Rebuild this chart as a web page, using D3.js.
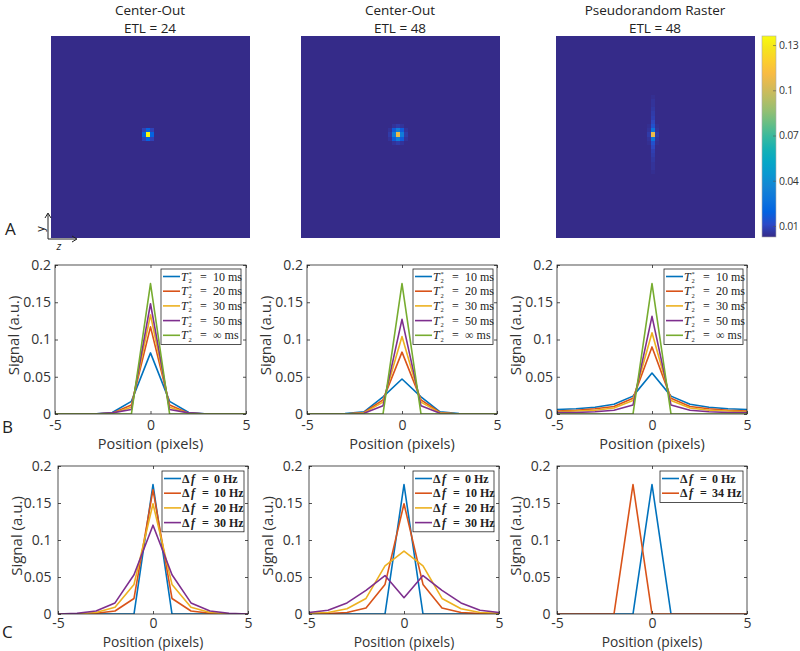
<!DOCTYPE html>
<html><head><meta charset="utf-8">
<script src="https://cdn.jsdelivr.net/npm/d3@7"></script>
<style>body{margin:0;background:#fff}svg{display:block}</style>
</head><body><svg id="fig" width="800" height="651"></svg>
<script>
// ================= DATA =================
const positions = [-5,-4,-3,-2,-1,0,1,2,3,4,5];
const yTicks = [0,0.05,0.1,0.15,0.2];
const xTicks = [-5,0,5];
const colorbarTicks = [0.01,0.04,0.07,0.1,0.13];
const colorRange = [0.0027,0.136];
const panelTitles = [["Center-Out","ETL = 24"],["Center-Out","ETL = 48"],["Pseudorandom Raster","ETL = 48"]];
const t2Values = ["10","20","30","50","∞"];
const dfValuesA = ["0","10","20","30"];
const dfValuesC3 = ["0","34"];

// Row B: T2* blurring
const b1T2_10  = [0,0,0,0.002,0.017,0.082,0.017,0.002,0,0,0];
const b1T2_20  = [0,0,0,0.001,0.012,0.117,0.012,0.001,0,0,0];
const b1T2_30  = [0,0,0,0.001,0.009,0.133,0.009,0.001,0,0,0];
const b1T2_50  = [0,0,0,0.0015,0.006,0.148,0.006,0.0015,0,0,0];
const b1T2_inf = [0,0,0,0,0,0.175,0,0,0,0,0];

const b2T2_10  = [0,0,0.0005,0.003,0.023,0.047,0.023,0.003,0.0005,0,0];
const b2T2_20  = [0,0,0,0.002,0.019,0.083,0.019,0.002,0,0,0];
const b2T2_30  = [0,0,0,0.0015,0.016,0.104,0.016,0.0015,0,0,0];
const b2T2_50  = [0,0,0,0.001,0.011,0.127,0.011,0.001,0,0,0];
const b2T2_inf = [0,0,0,0,0,0.175,0,0,0,0,0];

const b3T2_10  = [0.006,0.007,0.009,0.013,0.024,0.055,0.024,0.013,0.009,0.007,0.006];
const b3T2_20  = [0.004,0.005,0.007,0.010,0.021,0.090,0.021,0.010,0.007,0.005,0.004];
const b3T2_30  = [0.003,0.004,0.005,0.008,0.018,0.109,0.018,0.008,0.005,0.004,0.003];
const b3T2_50  = [0.002,0.002,0.003,0.005,0.012,0.131,0.012,0.005,0.003,0.002,0.002];
const b3T2_inf = [0,0,0,0,0,0.175,0,0,0,0,0];

// Row C: off-resonance
const c1Df_0  = [0,0,0,0,0,0.175,0,0,0,0,0];
const c1Df_10 = [0,0,0.001,0.004,0.021,0.168,0.021,0.004,0.001,0,0];
const c1Df_20 = [0,0,0.002,0.009,0.040,0.149,0.040,0.009,0.002,0,0];
const c1Df_30 = [0,0.001,0.004,0.015,0.053,0.120,0.053,0.015,0.004,0.001,0];

const c2Df_0  = [0,0,0,0,0,0.175,0,0,0,0,0];
const c2Df_10 = [0,0.0005,0.002,0.008,0.040,0.149,0.040,0.008,0.002,0.0005,0];
const c2Df_20 = [0.001,0.002,0.007,0.021,0.065,0.085,0.065,0.021,0.007,0.002,0.001];
const c2Df_30 = [0.002,0.005,0.015,0.032,0.052,0.022,0.052,0.032,0.015,0.005,0.002];

const c3Df_0  = [0,0,0,0,0,0.175,0,0,0,0,0];
const c3Df_34 = [0,0,0,0,0.175,0,0,0,0,0,0];

// Row A: 2D point spread functions (48 x 48 image, centred patch)
const imgSize = 48;
const imgCenter = 23;
const imgBackground = 0.003;
const psfCO24 = [
  [0.009,0.020,0.009],
  [0.020,0.135,0.020],
  [0.009,0.020,0.009]];
const psfCO48 = [
  [0.003,0.005,0.007,0.005,0.003],
  [0.005,0.017,0.032,0.017,0.005],
  [0.007,0.032,0.108,0.032,0.007],
  [0.005,0.017,0.032,0.017,0.005],
  [0.003,0.005,0.007,0.005,0.003]];
const psfPR48Center = [0.004,0.005,0.005,0.006,0.007,0.008,0.010,0.013,0.027,0.108,0.027,0.013,0.010,0.008,0.007,0.006,0.005,0.005,0.004];
const psfPR48Side   = [0.003,0.003,0.003,0.003,0.003,0.003,0.003,0.004,0.005,0.007,0.005,0.004,0.003,0.003,0.003,0.003,0.003,0.003,0.003];

// parula colormap
const parula = ["#352a87","#2c4ac7","#0363e1","#0d75dc","#1485d4","#0998d1","#06a7c6","#15b1b4","#38b99e","#65be86","#92bf73","#b7bd64","#d9ba56","#f8bb44","#fcce2e","#f5e41d","#f9fb0e"];

// ================= DRAWING =================
const svg = d3.select("#fig");
const FONT = "'Open Sans', 'Noto Sans', sans-serif";
const SERIF = "'Liberation Serif', 'DejaVu Serif', serif";
const AX = "#262626";
const lineColors = ["#0072BD","#D95319","#EDB120","#7E2F8E","#77AC30"];

const color = d3.scaleLinear()
  .domain(parula.map((_,i)=>colorRange[0]+i/(parula.length-1)*(colorRange[1]-colorRange[0])))
  .range(parula).interpolate(d3.interpolateRgb).clamp(true);

function makeGrid(cells){ // cells: [dr, dc, v]
  const g = d3.range(imgSize).map(()=>d3.range(imgSize).map(()=>imgBackground));
  cells.forEach(([dr,dc,v])=>{ g[imgCenter+dr][imgCenter+dc]=v; });
  const out=[];
  g.forEach((row,r)=>row.forEach((v,c)=>out.push({r,c,v})));
  return out;
}
function patchCells(p){
  const h=(p.length-1)/2, w=(p[0].length-1)/2, out=[];
  p.forEach((row,i)=>row.forEach((v,j)=>out.push([i-h,j-w,v])));
  return out;
}
function columnCells(center, side){
  const h=(center.length-1)/2, out=[];
  center.forEach((v,i)=>{ out.push([i-h,0,v]); out.push([i-h,-1,side[i]]); out.push([i-h,1,side[i]]); });
  return out;
}
const images = [
  {x:51, data:makeGrid(patchCells(psfCO24))},
  {x:301, data:makeGrid(patchCells(psfCO48))},
  {x:556, data:makeGrid(columnCells(psfPR48Center, psfPR48Side))}
];
const imgTop=36, imgW=198, imgH=201;

images.forEach((im,k)=>{
  const xs = d3.scaleBand().domain(d3.range(imgSize)).range([im.x, im.x+imgW]);
  const ys = d3.scaleBand().domain(d3.range(imgSize)).range([imgTop, imgTop+imgH]);
  const g = svg.append("g").attr("shape-rendering","crispEdges");
  g.selectAll("rect").data(im.data).join("rect")
    .attr("x",d=>xs(d.c)).attr("y",d=>ys(d.r))
    .attr("width",xs.bandwidth()+0.5).attr("height",ys.bandwidth()+0.5)
    .attr("fill",d=>color(d.v));
  const cx = im.x+imgW/2;
  svg.append("text").attr("x",cx).attr("y",14.5).attr("text-anchor","middle")
    .attr("font-family",FONT).attr("font-size",13.5).attr("fill","#222").text(panelTitles[k][0]);
  svg.append("text").attr("x",cx).attr("y",33).attr("text-anchor","middle")
    .attr("font-family",FONT).attr("font-size",13.5).attr("fill","#222").text(panelTitles[k][1]);
});

// colorbar
const cb = {x:762, w:14, top:36, bottom:237};
const cbScale = d3.scaleLinear().domain(colorRange).range([cb.bottom, cb.top]);
const defs = svg.append("defs");
const grad = defs.append("linearGradient").attr("id","cbgrad").attr("x1",0).attr("y1",1).attr("x2",0).attr("y2",0);
parula.forEach((c,i)=>grad.append("stop").attr("offset",i/(parula.length-1)).attr("stop-color",c));
svg.append("rect").attr("x",cb.x).attr("y",cb.top).attr("width",cb.w).attr("height",cb.bottom-cb.top)
  .attr("fill","url(#cbgrad)").attr("stroke","#aaa").attr("stroke-width",0.6);
const cbAxis = d3.axisRight(cbScale).tickValues(colorbarTicks).tickSize(-3).tickPadding(3).tickFormat(d=>String(d));
const cbg = svg.append("g").attr("transform",`translate(${cb.x+cb.w},0)`).call(cbAxis);
cbg.select(".domain").remove();
cbg.selectAll(".tick line").attr("stroke","#555").attr("stroke-width",0.6);
cbg.selectAll(".tick text").attr("font-family",FONT).attr("font-size",10.5).attr("letter-spacing",-0.3).attr("fill","#333");

// panel letters
[["A",5,235],["B",2,433],["C",2,638]].forEach(([t,x,y])=>
  svg.append("text").attr("x",x).attr("y",y).attr("font-family",FONT).attr("font-size",17).attr("fill","#222").text(t));

// orientation arrows
const ar = svg.append("g").attr("stroke","#222").attr("stroke-width",1).attr("fill","none");
ar.append("line").attr("x1",48).attr("y1",239).attr("x2",48).attr("y2",214);
ar.append("path").attr("d","M45,218 L48,213 L51,218");
ar.append("line").attr("x1",48).attr("y1",239).attr("x2",76).attr("y2",239);
ar.append("path").attr("d","M72,236 L77,239 L72,242");
svg.append("text").attr("transform","translate(40,229) rotate(-90)").attr("text-anchor","middle")
  .attr("font-family",FONT).attr("font-size",11).attr("fill","#222").attr("dy","0.35em").text("y");
svg.append("text").attr("x",59).attr("y",250).attr("text-anchor","middle")
  .attr("font-family",FONT).attr("font-size",11).attr("fill","#222").attr("font-style","italic").text("z");

// legend entries (single text elements with tspans)
function legendT2(g, val){
  const t = g.append("text").attr("font-family",SERIF).attr("font-size",12).attr("y",4);
  t.append("tspan").attr("x",0).attr("font-style","italic").text("T");
  t.append("tspan").attr("x",7.5).attr("dy",2.5).attr("font-size",6.5).text("2");
  t.append("tspan").attr("x",7.5).attr("dy",-7.5).attr("font-size",6.5).text("*");
  t.append("tspan").attr("x",19).attr("dy",5).text("=");
  t.append("tspan").attr("x",32).text(val+" ms");
}
function legendDf(g, val){
  const t = g.append("text").attr("font-family",SERIF).attr("font-size",12).attr("font-weight","bold").attr("y",4);
  t.append("tspan").attr("x",0).text("Δ");
  t.append("tspan").attr("x",9).attr("font-style","italic").text("f");
  t.append("tspan").attr("x",20).text("=");
  t.append("tspan").attr("x",32).text(val+" Hz");
}

const plots = [
  {x:55, y:265, w:191, h:149, series:[b1T2_10,b1T2_20,b1T2_30,b1T2_50,b1T2_inf], labels:t2Values, kind:"t2", leg:{x:161,y:269,w:80}, xl:35, xfs:14.5, tp:6, yp:4},
  {x:307,y:265, w:190, h:149, series:[b2T2_10,b2T2_20,b2T2_30,b2T2_50,b2T2_inf], labels:t2Values, kind:"t2", leg:{x:413,y:269,w:80}, xl:35, xfs:14.5, tp:6, yp:4},
  {x:557,y:265, w:190, h:149, series:[b3T2_10,b3T2_20,b3T2_30,b3T2_50,b3T2_inf], labels:t2Values, kind:"t2", leg:{x:664,y:269,w:79}, xl:35, xfs:14.5, tp:6, yp:4},
  {x:58, y:466, w:190, h:148, series:[c1Df_0,c1Df_10,c1Df_20,c1Df_30], labels:dfValuesA, kind:"df", leg:{x:162,y:471,w:82}, xl:32.9, xfs:13.8, tp:4, yp:6.5},
  {x:309,y:466, w:190, h:148, series:[c2Df_0,c2Df_10,c2Df_20,c2Df_30], labels:dfValuesA, kind:"df", leg:{x:413,y:471,w:81}, xl:32.9, xfs:13.8, tp:4, yp:6.5},
  {x:557,y:466, w:190, h:148, series:[c3Df_0,c3Df_34], labels:dfValuesC3, kind:"df", leg:{x:660,y:471,w:83}, xl:32.9, xfs:13.8, tp:4, yp:6.5}
];

plots.forEach((p,idx)=>{
  const x = d3.scaleLinear().domain([-5,5]).range([p.x, p.x+p.w]);
  const y = d3.scaleLinear().domain([0,0.2]).range([p.y+p.h, p.y]);
  const clipId = "clip"+idx;
  defs.append("clipPath").attr("id",clipId).append("rect")
    .attr("x",p.x).attr("y",p.y-1).attr("width",p.w).attr("height",p.h+1);
  svg.append("rect").attr("x",p.x).attr("y",p.y).attr("width",p.w).attr("height",p.h).attr("fill","#fff");
  const line = d3.line().x((d,i)=>x(positions[i])).y(d=>y(d));
  const lg = svg.append("g").attr("clip-path",`url(#${clipId})`);
  p.series.forEach((s,i)=>{
    lg.append("path").datum(s).attr("d",line).attr("fill","none")
      .attr("stroke",lineColors[i]).attr("stroke-width",1.6).attr("stroke-linejoin","round");
  });
  const fmt = d=>String(d);
  const styleAxis = g=>{
    g.select(".domain").remove();
    g.selectAll(".tick line").attr("stroke",AX).attr("stroke-width",0.8);
    g.selectAll(".tick text").attr("font-family",FONT).attr("font-size",14).attr("fill","#333");
  };
  svg.append("g").attr("transform",`translate(${p.x},0)`)
    .call(d3.axisLeft(y).tickValues(yTicks).tickSize(-3).tickPadding(p.yp).tickFormat(fmt)).call(styleAxis);
  svg.append("g").attr("transform",`translate(${p.x+p.w},0)`)
    .call(d3.axisRight(y).tickValues(yTicks).tickSize(-3).tickFormat("")).call(styleAxis);
  svg.append("g").attr("transform",`translate(0,${p.y+p.h})`)
    .call(d3.axisBottom(x).tickValues(xTicks).tickSize(-3).tickPadding(p.tp).tickFormat(fmt)).call(styleAxis);
  svg.append("g").attr("transform",`translate(0,${p.y})`)
    .call(d3.axisTop(x).tickValues(xTicks).tickSize(-3).tickFormat("")).call(styleAxis);
  svg.append("rect").attr("x",p.x).attr("y",p.y).attr("width",p.w).attr("height",p.h)
    .attr("fill","none").attr("stroke",AX).attr("stroke-width",0.8);
  svg.append("text").attr("x",p.x+p.w/2).attr("y",p.y+p.h+p.xl).attr("text-anchor","middle")
    .attr("font-family",FONT).attr("font-size",p.xfs).attr("fill","#333").text("Position (pixels)");
  svg.append("text").attr("transform",`translate(${p.x-41},${p.y+p.h/2-4}) rotate(-90)`)
    .attr("text-anchor","middle").attr("dy","0.35em")
    .attr("font-family",FONT).attr("font-size",15).attr("fill","#333").text("Signal (a.u.)");
  const rowH = 14.7;
  const L = p.leg;
  const lh = p.labels.length*rowH + 2;
  svg.append("rect").attr("x",L.x).attr("y",L.y).attr("width",L.w).attr("height",lh)
    .attr("fill","#fff").attr("stroke",AX).attr("stroke-width",0.8);
  p.labels.forEach((lab,i)=>{
    const cy = L.y + 7.5 + i*rowH;
    svg.append("line").attr("x1",L.x+2).attr("x2",L.x+19).attr("y1",cy).attr("y2",cy)
      .attr("stroke",lineColors[i]).attr("stroke-width",1.6);
    const g = svg.append("g").attr("transform",`translate(${L.x+20},${cy})`).attr("fill","#222");
    if(p.kind==="t2") legendT2(g,lab); else legendDf(g,lab);
  });
});
</script>
</body></html>
